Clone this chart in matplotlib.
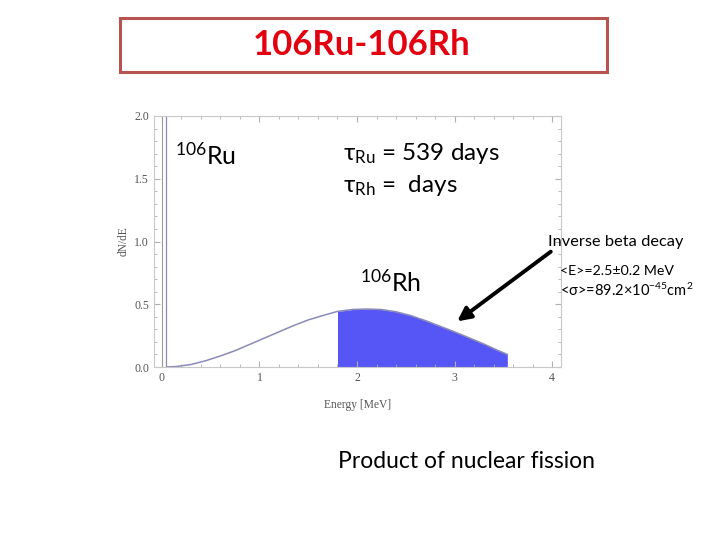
import matplotlib
matplotlib.use("agg")
from matplotlib import pyplot as plt
from matplotlib.patches import Rectangle, FancyArrowPatch
from matplotlib.ticker import MultipleLocator

plt.rcParams["font.family"] = ["Lato", "DejaVu Sans"]
plt.rcParams["mathtext.fontset"] = "custom"
plt.rcParams["mathtext.rm"] = "Lato"
plt.rcParams["mathtext.it"] = "Lato:italic"
plt.rcParams["mathtext.bf"] = "Lato:bold"

# spectrum
energy = [0.05, 0.15, 0.3, 0.45, 0.6, 0.75, 0.9, 1.05, 1.2, 1.35, 1.5, 1.65,
          1.8, 1.95, 2.1, 2.25, 2.4, 2.55, 2.7, 2.85, 3.0, 3.15, 3.3, 3.42, 3.54]
dnde = [0.0, 0.004, 0.02, 0.05, 0.088, 0.13, 0.18, 0.23, 0.28, 0.33, 0.375, 0.41,
        0.443, 0.458, 0.462, 0.458, 0.44, 0.41, 0.37, 0.325, 0.28, 0.232, 0.183,
        0.14, 0.10]
ibd_threshold = 1.8
ru_spike = 0.04

x_ticks = [0, 1, 2, 3, 4]
y_ticks = [0.0, 0.5, 1.0, 1.5, 2.0]

W, H = 720, 540
fig = plt.figure(figsize=(7.2, 5.4), dpi=100)


def fx(px):
    return px / W


def fy(py):
    return 1 - py / H


# title box
fig.patches.append(Rectangle((fx(120), fy(72)), fx(607) - fx(120), fy(18) - fy(72),
                             transform=fig.transFigure, fill=False,
                             edgecolor="#b85450", linewidth=2.2))
fig.text(fx(362), fy(45), "106Ru-106Rh", color="#e3000f", fontsize=25,
         fontweight="bold", ha="center", va="center")

ax = fig.add_axes([fx(154), fy(367), fx(561) - fx(154), fy(116) - fy(367)])
ax.set_xlim(-0.08, 4.09)
ax.set_ylim(0, 2.0)

ax.axvline(0, color="#9a9a9a", linewidth=0.8)
ax.vlines(ru_spike, 0, 2.0, color="#8a8ab0", linewidth=0.9)
ax.plot(energy, dnde, color="#8a8ab8", linewidth=1.1)
fill_e = [e for e in energy if e >= ibd_threshold]
fill_y = [v for e, v in zip(energy, dnde) if e >= ibd_threshold]
ax.fill_between(fill_e, 0, fill_y, color="#5656f7", linewidth=0)

ax.set_xticks(x_ticks)
ax.set_yticks(y_ticks)
ax.set_xticklabels([str(t) for t in x_ticks])
ax.set_yticklabels([f"{t:.1f}" for t in y_ticks])
ax.xaxis.set_minor_locator(MultipleLocator(0.2))
ax.yaxis.set_minor_locator(MultipleLocator(0.1))
ax.tick_params(which="both", direction="in", top=True, right=True,
               color="#b0b0b0", labelcolor="#555555", labelsize=8.5)
ax.tick_params(which="major", length=4)
ax.tick_params(which="minor", length=2)
for lab in ax.get_xticklabels() + ax.get_yticklabels():
    lab.set_family("Liberation Serif")
for s in ax.spines.values():
    s.set_color("#c8c8c8")
    s.set_linewidth(0.8)
ax.set_xlabel("Energy [MeV]", family="Liberation Serif", fontsize=8.3,
              color="#555555", labelpad=11)
ax.set_ylabel("dN/dE", family="Liberation Serif", fontsize=8.3,
              color="#555555", labelpad=3)

# annotations
fig.text(fx(175), fy(155), r"$^{106}$Ru", fontsize=18, va="center")
fig.text(fx(343), fy(154), r"τ$_{\mathrm{Ru}}$ = 539 days", fontsize=17.5, va="center")
fig.text(fx(343), fy(186), r"τ$_{\mathrm{Rh}}$ =  days", fontsize=17.5, va="center")
fig.text(fx(360), fy(282), r"$^{106}$Rh", fontsize=18, va="center")
fig.text(fx(548), fy(242), "Inverse beta decay", fontsize=11.8, va="center")
fig.text(fx(560), fy(271), "<E>=2.5±0.2 MeV", fontsize=10.2, va="center")
fig.text(fx(560), fy(290), r"<σ>=89.2×10$^{-45}$cm$^{2}$", fontsize=10.5, va="center")
fig.text(fx(338), fy(461), "Product of nuclear fission", fontsize=16.5, va="center")

fig.add_artist(FancyArrowPatch(
    (fx(553), fy(250)), (fx(455), fy(323)), transform=fig.transFigure,
    arrowstyle="-|>,head_length=8,head_width=4", color="black", linewidth=2.8))

fig.savefig("out.png", dpi=100)
